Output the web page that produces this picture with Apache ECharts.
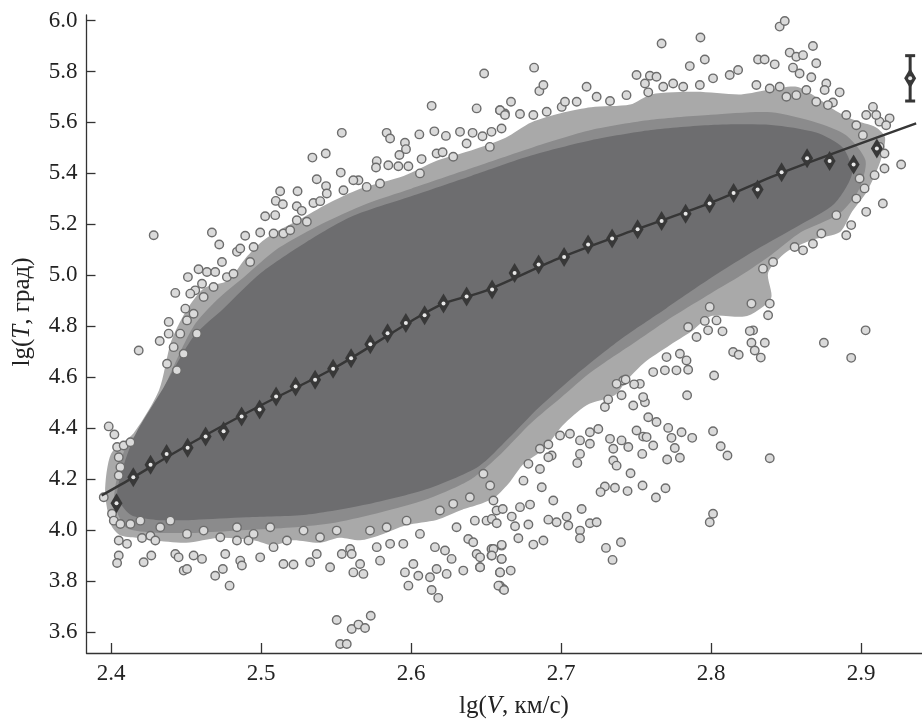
<!DOCTYPE html>
<html>
<head>
<meta charset="utf-8">
<script src="https://cdn.jsdelivr.net/npm/echarts@6/dist/echarts.min.js"></script>
<style>
html,body{margin:0;padding:0;background:#fff;}
#chart{width:922px;height:719px;}
</style>
</head>
<body>
<div id="chart"></div>
<script>
// ---------- data ----------
const xTicks = [2.4, 2.5, 2.6, 2.7, 2.8, 2.9];
const yTicks = [3.6, 3.8, 4.0, 4.2, 4.4, 4.6, 4.8, 5.0, 5.2, 5.4, 5.6, 5.8, 6.0];

// outline of the sparse outer part of the cloud (lg V, lg T)
const cloudOuter = [
 [2.396,4.15],[2.400,4.30],[2.415,4.38],[2.432,4.55],[2.440,4.74],[2.450,4.86],[2.462,4.95],
 [2.478,4.98],[2.490,5.07],[2.500,5.13],[2.510,5.17],[2.526,5.22],[2.544,5.28],[2.566,5.34],
 [2.595,5.39],[2.617,5.45],[2.640,5.49],[2.663,5.54],[2.680,5.60],[2.702,5.64],[2.720,5.66],
 [2.746,5.67],[2.760,5.71],[2.790,5.72],[2.820,5.71],[2.840,5.73],[2.857,5.74],[2.870,5.70],
 [2.882,5.65],[2.895,5.61],[2.910,5.58],[2.916,5.54],[2.913,5.45],[2.904,5.33],[2.894,5.25],
 [2.886,5.17],[2.868,5.14],[2.850,5.09],[2.838,5.01],[2.840,4.91],[2.824,4.84],[2.800,4.84],
 [2.787,4.78],[2.771,4.72],[2.756,4.66],[2.744,4.59],[2.736,4.53],[2.717,4.49],[2.701,4.41],
 [2.689,4.32],[2.675,4.26],[2.666,4.19],[2.656,4.13],[2.645,4.10],[2.634,4.08],[2.617,4.04],
 [2.597,4.02],[2.579,3.98],[2.566,3.96],[2.552,3.97],[2.539,3.95],[2.521,3.96],[2.508,3.94],
 [2.495,3.96],[2.472,3.97],[2.450,3.95],[2.428,3.96],[2.417,3.97],[2.406,3.98],[2.400,4.02]
];

// outline of the dense part of the cloud
const cloudMid = [
 [2.402,4.12],[2.410,4.33],[2.425,4.42],[2.440,4.62],[2.455,4.80],[2.470,4.90],[2.490,5.00],
 [2.510,5.10],[2.540,5.20],[2.570,5.28],[2.600,5.34],[2.640,5.42],[2.680,5.50],[2.720,5.57],
 [2.760,5.61],[2.800,5.63],[2.840,5.64],[2.870,5.60],[2.890,5.55],[2.903,5.45],[2.898,5.33],
 [2.885,5.24],[2.860,5.17],[2.840,5.08],[2.820,5.00],[2.800,4.93],[2.775,4.84],[2.750,4.74],
 [2.720,4.62],[2.700,4.52],[2.680,4.42],[2.660,4.30],[2.640,4.20],[2.610,4.12],[2.580,4.07],
 [2.550,4.03],[2.520,4.01],[2.490,4.00],[2.460,3.99],[2.430,3.99],[2.410,4.01]
];

// outline of the solid, darkest core of the cloud
const cloudCore = [
 [2.404,4.14],[2.415,4.36],[2.435,4.56],[2.455,4.76],[2.475,4.87],[2.500,5.01],[2.530,5.13],
 [2.560,5.23],[2.600,5.31],[2.640,5.39],[2.680,5.47],[2.720,5.53],[2.760,5.57],[2.800,5.59],
 [2.840,5.59],[2.870,5.56],[2.888,5.50],[2.894,5.40],[2.882,5.28],[2.860,5.20],[2.830,5.10],
 [2.800,4.99],[2.770,4.87],[2.740,4.75],[2.710,4.61],[2.685,4.48],[2.665,4.36],[2.645,4.25],
 [2.610,4.16],[2.570,4.10],[2.530,4.06],[2.490,4.05],[2.455,4.04],[2.430,4.04],[2.413,4.06]
];

// individually visible observations at the edges of the cloud and outliers
const edgePoints = [
 [2.6137,5.665],[2.6437,5.655],[2.6592,5.648],[2.6625,5.635],[2.5538,5.559],[2.5837,5.559],[2.5860,5.537],
 [2.6055,5.553],[2.6155,5.565],[2.6232,5.547],[2.6326,5.563],[2.6410,5.559],[2.6476,5.546],[2.6536,5.563],
 [2.6603,5.576],[2.5342,5.462],[2.5431,5.478],[2.5531,5.403],[2.5371,5.377],[2.5959,5.520],[2.5966,5.495],
 [2.5922,5.472],[2.5771,5.448],[2.5766,5.423],[2.5848,5.432],[2.5915,5.428],[2.5982,5.428],[2.6070,5.456],
 [2.6170,5.478],[2.6210,5.483],[2.5649,5.373],[2.5433,5.350],[2.5127,5.330],[2.5243,5.330],[2.5098,5.292],
 [2.5145,5.279],[2.5238,5.271],[2.5027,5.232],[2.5094,5.236],[2.5271,5.253],[2.5349,5.284],[2.5394,5.291],
 [2.4672,5.168],[2.4721,5.121],[2.4739,5.052],[2.4894,5.155],[2.4994,5.168],[2.4284,5.157],[2.4583,5.024],
 [2.4512,4.993],[2.4428,4.931],[2.4184,4.705],[2.4324,4.742],[2.4384,4.817],[2.4639,5.013],[2.4694,5.013],
 [2.4839,5.092],[2.4861,5.105],[2.4950,5.111],[2.4927,5.052],[2.4384,4.771],[2.4495,4.869],[2.4561,4.941],
 [2.4606,4.967],[2.5149,5.164],[2.5194,5.177],[2.5083,5.164],[2.5238,5.216],[2.5305,5.210],[2.5438,5.321],
 [2.5549,5.334],[2.5615,5.373],[2.5704,5.347],[2.5793,5.360],[2.6059,5.400],[2.6281,5.465],[2.6370,5.517],
 [2.6525,5.504],[2.4373,4.653],[2.4417,4.718],[2.4461,4.771],[2.4506,4.823],[2.4550,4.849],[2.4484,4.692],
 [2.4572,4.771],[2.4439,4.627],[2.4528,4.928],[2.4617,4.915],[2.4683,4.954],[2.4772,4.993],[2.4816,5.006],
 [2.3984,4.407],[2.4022,4.375],[2.3951,4.129],[2.4040,4.326],[2.4084,4.332],[2.4129,4.345],[2.4051,4.286],
 [2.4062,4.247],[2.4051,4.214],[2.4006,4.064],[2.4018,4.037],[2.4062,4.024],[2.4129,4.024],[2.4195,4.037],
 [2.4051,3.959],[2.4106,3.946],[2.4051,3.900],[2.4040,3.871],[2.4217,3.874],[2.4268,3.900],[2.4206,3.969],
 [2.4262,3.978],[2.4295,3.959],[2.4428,3.906],[2.4450,3.893],[2.4484,3.841],[2.4506,3.847],[2.4550,3.900],
 [2.4606,3.887],[2.4694,3.821],[2.4745,3.847],[2.4790,3.782],[2.4861,3.880],[2.4872,3.861],[2.4761,3.906],
 [2.4839,3.959],[2.4916,3.959],[2.4994,3.893],[2.5083,3.933],[2.5149,3.867],[2.5216,3.865],[2.5327,3.874],
 [2.5371,3.906],[2.5460,3.854],[2.5538,3.906],[2.5593,3.926],[2.5615,3.834],[2.5660,3.867],[2.5682,3.828],
 [2.5604,3.906],[2.5504,3.647],[2.5604,3.612],[2.5649,3.629],[2.5693,3.616],[2.5731,3.664],[2.5527,3.553],
 [2.5571,3.553],[2.5793,3.880],[2.5959,3.834],[2.5982,3.782],[2.6015,3.867],[2.6048,3.821],[2.6126,3.815],
 [2.6159,3.933],[2.6170,3.847],[2.6137,3.765],[2.6181,3.734],[2.6237,3.828],[2.6226,3.920],[2.6270,3.887],
 [2.6348,3.841],[2.6381,3.965],[2.6414,3.952],[2.6437,3.906],[2.6459,3.854],[2.6425,4.037],[2.6536,3.926],
 [2.6603,3.939],[2.6536,3.900],[2.6592,3.834],[2.6603,3.887],[2.6592,3.782],[2.6614,3.769],[2.5771,3.933],
 [2.5860,3.946],[2.5948,3.946],[2.6059,3.985],[2.6303,4.011],[2.6503,4.037],[2.6570,4.077],[2.6281,4.103],
 [2.6392,4.129],[2.6192,4.077],[2.5970,4.037],[2.5837,4.011],[2.5726,3.998],[2.4328,4.011],[2.4395,4.037],
 [2.4506,3.985],[2.4617,3.998],[2.4728,3.972],[2.4839,4.011],[2.4950,3.985],[2.5061,4.011],[2.5172,3.959],
 [2.5283,3.998],[2.5393,3.972],[2.5504,3.998],
 [2.8457,5.976],[2.8491,5.998],[2.7670,5.910],[2.7929,5.933],[2.7958,5.847],[2.7858,5.821],[2.6820,5.815],
 [2.6487,5.792],[2.6855,5.723],[2.6882,5.747],[2.7170,5.740],[2.6666,5.681],[2.6593,5.648],[2.6626,5.629],
 [2.6726,5.633],[2.6815,5.629],[2.6904,5.642],[2.7004,5.661],[2.7026,5.681],[2.7104,5.681],[2.7237,5.701],
 [2.7326,5.684],[2.7436,5.707],[2.7503,5.786],[2.7592,5.783],[2.7636,5.779],[2.7559,5.753],[2.7581,5.718],
 [2.7681,5.740],[2.7747,5.753],[2.7814,5.740],[2.7925,5.747],[2.8013,5.773],[2.8124,5.786],[2.8180,5.806],
 [2.8313,5.847],[2.8357,5.847],[2.8424,5.828],[2.8524,5.874],[2.8568,5.858],[2.8613,5.864],[2.8679,5.900],
 [2.8701,5.832],[2.8546,5.815],[2.8590,5.792],[2.8668,5.777],[2.8768,5.753],[2.8857,5.718],[2.8757,5.727],
 [2.8812,5.678],[2.8779,5.668],[2.9079,5.661],[2.9034,5.629],[2.9190,5.616],[2.9123,5.603],[2.9267,5.435],
 [2.9156,5.419],[2.9145,5.282],[2.9034,5.249],[2.9023,5.341],[2.8968,5.301],[2.8934,5.197],[2.8901,5.157],
 [2.8735,5.164],[2.8679,5.124],[2.8613,5.098],[2.8557,5.111],[2.8835,5.236],[2.8346,5.026],[2.8413,5.052],
 [2.8302,5.747],[2.8391,5.733],[2.8457,5.740],[2.8502,5.701],[2.8568,5.707],[2.8635,5.727],[2.8701,5.681],
 [2.8901,5.629],[2.8968,5.589],[2.9012,5.550],[2.9101,5.629],[2.9167,5.589],[2.9123,5.504],[2.9156,5.478],
 [2.9090,5.393],[2.8990,5.380],
 [2.9030,4.784],[2.8752,4.735],[2.8934,4.676],[2.8391,4.282],[2.8269,4.889],[2.8391,4.889],[2.8380,4.843],
 [2.8280,4.784],[2.8258,4.781],[2.8269,4.735],[2.8358,4.735],[2.8291,4.705],[2.8331,4.677],[2.8147,4.699],
 [2.8184,4.688],[2.8076,4.780],[2.7980,4.784],[2.8020,4.607],[2.7840,4.529],[2.8013,4.388],[2.8064,4.329],
 [2.8109,4.293],[2.8013,4.064],[2.7991,4.031],[2.7874,4.362],[2.7803,4.384],[2.7714,4.401],[2.7736,4.362],
 [2.7758,4.322],[2.7792,4.284],[2.7707,4.277],[2.7614,4.332],[2.7547,4.367],[2.7570,4.365],[2.7541,4.299],
 [2.7463,4.223],[2.7543,4.175],[2.7696,4.164],[2.7632,4.128],[2.7443,4.153],[2.7359,4.166],[2.7292,4.171],
 [2.7263,4.149],[2.7137,4.083],[2.7126,3.998],[2.7126,3.968],[2.7192,4.027],[2.7237,4.031],[2.7299,3.930],
 [2.7399,3.952],[2.7343,3.883],[2.7037,4.053],[2.7048,4.018],[2.6970,4.031],[2.6915,4.041],[2.6948,4.116],
 [2.6882,3.959],[2.6815,3.943],[2.6715,3.968],[2.6782,4.022],[2.6693,4.015],[2.6604,3.942],[2.6549,3.926],
 [2.6538,3.900],[2.6604,3.887],[2.6593,3.834],[2.6664,3.841],[2.6582,3.782],[2.6620,3.765],[2.6460,3.854],
 [2.6460,3.893],[2.6538,4.044],[2.6571,4.027],[2.6611,4.083],[2.6671,4.053],[2.6793,4.100],[2.6726,4.090],
 [2.6859,4.240],[2.6871,4.168],[2.6937,4.293],[2.6915,4.336],[2.6859,4.319],[2.6782,4.260],[2.6749,4.194],
 [2.6549,4.116],[2.6527,4.175],[2.6482,4.221],[2.7108,4.263],[2.7126,4.299],[2.7348,4.273],[2.7370,4.253],
 [2.7448,4.326],[2.7481,4.489],[2.7559,4.502],[2.7614,4.620],[2.7692,4.627],[2.7769,4.627],[2.7847,4.629],
 [2.7836,4.666],[2.7703,4.679],[2.7792,4.692],[2.7903,4.758],[2.7847,4.797],[2.8036,4.823],[2.7958,4.821],
 [2.7991,4.876],[2.7525,4.574],[2.7414,4.587],[2.7370,4.574],[2.7292,4.483],[2.7314,4.513],[2.7403,4.529],
 [2.7430,4.591],[2.7487,4.572],[2.7547,4.522],[2.7581,4.443],[2.7636,4.424],[2.7503,4.391],[2.7403,4.352],
 [2.7326,4.358],[2.7348,4.319],[2.7059,4.378],[2.6993,4.371],[2.7126,4.352],[2.7192,4.339],[2.6915,4.286],
 [2.7192,4.384],[2.7248,4.397]
];

// binned means (diamonds)
const meanX = [2.4036,2.4148,2.4263,2.437,2.451,2.463,2.475,2.487,2.499,2.510,2.523,2.536,2.548,2.560,
 2.5728,2.5843,2.5965,2.609,2.6216,2.637,2.654,2.669,2.685,2.702,2.718,2.734,2.751,2.767,2.783,2.799,
 2.815,2.831,2.847,2.864,2.879,2.895,2.9105];
const meanY = [4.105,4.207,4.256,4.299,4.323,4.367,4.388,4.446,4.473,4.524,4.564,4.590,4.633,4.674,
 4.729,4.773,4.813,4.843,4.889,4.917,4.944,5.009,5.042,5.072,5.121,5.144,5.181,5.213,5.242,5.282,
 5.323,5.337,5.404,5.459,5.449,5.435,5.498];

// fitted curve
const fitX = [2.3937,2.4148,2.45,2.50,2.55,2.60,2.6216,2.65,2.70,2.75,2.80,2.847,2.9367];
const fitY = [4.136,4.207,4.33,4.49,4.64,4.82,4.889,4.94,5.07,5.18,5.285,5.402,5.596];

// typical error bar (upper right)
const errX = [2.9327];
const errMean = [5.773];
const errLow = [5.684];
const errHigh = [5.862];

// ---------- chart ----------
const serif = 'Liberation Serif';
const chart = echarts.init(document.getElementById('chart'), null, {renderer:'canvas'});

function polySeries(pts, fill, z){
  return {
    type:'custom', coordinateSystem:'cartesian2d', silent:true, z:z,
    data:[[pts[0][0], pts[0][1]]],
    encode:{x:0, y:1},
    renderItem:function(params, api){
      return {type:'polygon', shape:{points: pts.map(p=>api.coord(p)), smooth:0.25},
              style:{fill:fill, stroke:null}};
    }
  };
}

const meanData = meanX.map((x,i)=>[x, meanY[i]]).concat(errX.map((x,i)=>[x, errMean[i]]));
const tickRich = {t:{fontFamily:serif, fontSize:23, color:'#222'}};

const option = {
  animation:false,
  backgroundColor:'#ffffff',
  textStyle:{fontFamily:serif},
  grid:{left:86.5, right:0, top:15, bottom:66, containLabel:false},
  xAxis:{
    type:'value', min:2.3836, max:2.9406,
    axisLine:{show:true, onZero:false, lineStyle:{color:'#333', width:1.3}},
    axisTick:{show:true, inside:true, length:10, customValues:xTicks, lineStyle:{color:'#333', width:1.3}},
    axisLabel:{show:true, customValues:xTicks, margin:9, fontFamily:serif, fontSize:23, color:'#222',
      rich:tickRich, formatter:v=>'{t|'+Number(v).toFixed(1)+'}'},
    splitLine:{show:false}
  },
  yAxis:{
    type:'value', min:3.5176, max:6.0216,
    axisLine:{show:true, onZero:false, lineStyle:{color:'#333', width:1.3}},
    axisTick:{show:true, inside:true, length:9, customValues:yTicks, lineStyle:{color:'#333', width:1.3}},
    axisLabel:{show:true, customValues:yTicks, margin:9, fontFamily:serif, fontSize:23, color:'#222',
      rich:tickRich, formatter:v=>'{t|'+Number(v).toFixed(1)+'}'},
    splitLine:{show:false}
  },
  graphic:[
    {type:'text', x:514, y:706, silent:true,
     style:{text:'{a|lg(}{i|V}{a|, км/с)}', textAlign:'center', textVerticalAlign:'middle',
       rich:{a:{fontFamily:serif, fontSize:25, fill:'#222'}, i:{fontFamily:serif, fontSize:25, fontStyle:'italic', fill:'#222'}}}},
    {type:'text', x:22, y:312, rotation:Math.PI/2, silent:true,
     style:{text:'{a|lg(}{i|T}{a|, град)}', textAlign:'center', textVerticalAlign:'middle',
       rich:{a:{fontFamily:serif, fontSize:25, fill:'#222'}, i:{fontFamily:serif, fontSize:25, fontStyle:'italic', fill:'#222'}}}}
  ],
  series:[
    polySeries(cloudOuter, '#a9a9a9', 1),
    polySeries(cloudMid, '#8b8b8c', 2),
    polySeries(cloudCore, '#6d6d6f', 3),
    {
      type:'scatter', z:4, silent:true,
      data: edgePoints,
      symbol:'circle', symbolSize:8.5,
      itemStyle:{color:'#dadada', borderColor:'#6c6c6c', borderWidth:1.4, opacity:1}
    },
    {
      type:'line', z:5, silent:true,
      data: fitX.map((x,i)=>[x, fitY[i]]),
      showSymbol:false, smooth:0.3,
      lineStyle:{color:'#363636', width:2.4}
    },
    {
      type:'custom', z:6, silent:true, coordinateSystem:'cartesian2d',
      data: errX.map((x,i)=>[x, errLow[i], errHigh[i]]),
      encode:{x:0, y:[1,2]},
      renderItem:function(params, api){
        const lo = api.coord([api.value(0), api.value(1)]);
        const hi = api.coord([api.value(0), api.value(2)]);
        const hw = 5;
        const st = {stroke:'#363636', lineWidth:3};
        return {type:'group', children:[
          {type:'line', shape:{x1:lo[0], y1:lo[1], x2:hi[0], y2:hi[1]}, style:st},
          {type:'line', shape:{x1:lo[0]-hw, y1:lo[1], x2:lo[0]+hw, y2:lo[1]}, style:st},
          {type:'line', shape:{x1:hi[0]-hw, y1:hi[1], x2:hi[0]+hw, y2:hi[1]}, style:st}
        ]};
      }
    },
    {
      type:'scatter', z:7, silent:true,
      data: meanData,
      symbol:'diamond', symbolSize:[12,20],
      itemStyle:{color:'#383838', opacity:1}
    },
    {
      type:'scatter', z:8, silent:true,
      data: meanData,
      symbol:'circle', symbolSize:4,
      itemStyle:{color:'#e8e8e8', opacity:1}
    }
  ]
};
chart.setOption(option);
</script>
</body>
</html>
